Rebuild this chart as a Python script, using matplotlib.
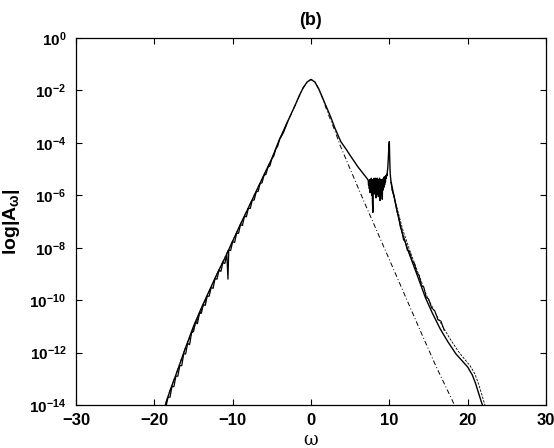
import numpy as np
import matplotlib
matplotlib.use('Agg')
import matplotlib.pyplot as plt
from matplotlib.ticker import FixedLocator, NullLocator, LogFormatterSciNotation

plt.rcParams['font.family'] = ['Liberation Sans', 'DejaVu Sans']
plt.rcParams['mathtext.fontset'] = 'custom'
plt.rcParams['mathtext.rm'] = 'Liberation Sans:bold'
plt.rcParams['mathtext.it'] = 'Liberation Sans:bold'
plt.rcParams['mathtext.bf'] = 'Liberation Sans:bold'

# main solid curve: omega, log10|A|
main_w = [-18.6, -18.0, -17.0, -16.0, -15.0, -14.0, -13.0, -12.0, -11.0, -10.0,
          -9.0, -8.0, -7.0, -6.0, -5.0, -4.0, -3.0, -2.0, -1.5, -1.0, -0.5, 0.0,
          0.5, 1.0, 1.5, 2.0, 2.5, 3.0, 3.8, 4.5, 5.0, 6.0, 7.0]
main_v = [-14.0, -13.45, -12.65, -11.8, -11.0, -10.3, -9.65, -9.0, -8.4, -7.75,
          -7.1, -6.48, -5.85, -5.22, -4.6, -3.85, -3.2, -2.55, -2.2, -1.9, -1.68, -1.58,
          -1.68, -1.95, -2.3, -2.65, -3.0, -3.4, -3.95, -4.25, -4.48, -4.92, -5.3]

# noisy part around omega = 7.3..9.7 and the spike at 10
blob_w = [7.30, 7.35, 7.40, 7.45, 7.50, 7.55, 7.60, 7.65, 7.70, 7.75, 7.80, 7.85, 7.90,
          7.95, 8.00, 8.05, 8.10, 8.15, 8.20, 8.25, 8.30, 8.35, 8.40, 8.45, 8.50, 8.55,
          8.60, 8.65, 8.70, 8.75, 8.80, 8.85, 8.90, 8.95, 9.00, 9.05, 9.10, 9.15, 9.20,
          9.25, 9.30, 9.35, 9.40, 9.45, 9.50, 9.55, 9.60, 9.65, 9.70, 9.75, 9.80, 9.85,
          9.90, 9.95, 10.00, 10.05, 10.10, 10.15, 10.20]
blob_v = [-5.42, -5.6, -5.45, -5.75, -5.4, -5.9, -5.45, -5.7, -5.35, -6.0, -5.4, -6.3, -6.65,
          -5.5, -5.85, -5.35, -5.95, -5.4, -5.8, -5.35, -6.1, -5.4, -5.75, -5.35, -5.95, -5.4,
          -6.05, -5.45, -5.8, -5.35, -6.2, -5.5, -5.85, -5.4, -6.0, -5.45, -6.15, -5.4, -5.8,
          -5.35, -5.7, -5.3, -5.6, -5.3, -5.5, -5.25, -5.35, -5.2, -5.25, -5.1, -4.95, -4.7,
          -4.4, -4.1, -3.95, -4.6, -5.1, -5.3, -5.45]

# right tail of solid curve
tail_w = [10.5, 11.0, 11.6, 12.5, 13.5, 14.6, 15.5, 16.5, 17.5, 18.5, 19.4,
          20.0, 20.6, 21.0, 21.8, 22.3]
tail_v = [-5.9, -6.6, -7.4, -8.2, -9.0, -9.9, -10.5, -11.1, -11.6, -12.05, -12.35,
          -12.55, -12.86, -13.17, -13.93, -14.3]

# jagged traces overlapping the solid curve
jagL_w = [-18.5, -18.25, -18.0, -17.75, -17.5, -17.25, -17.0, -16.75, -16.5, -16.25,
          -16.0, -15.75, -15.5, -15.25, -15.0, -14.75, -14.5, -14.25, -14.0, -13.75,
          -13.5, -13.25, -13.0, -12.75, -12.5, -12.25, -12.0, -11.75, -11.5, -11.25,
          -11.0, -10.75, -10.6, -10.5, -10.25, -10.0, -9.75, -9.5, -9.25, -9.0,
          -8.75, -8.5, -8.25, -8.0, -7.75, -7.5, -7.25, -7.0, -6.75, -6.5,
          -6.25, -6.0, -5.75, -5.5, -5.25, -5.0, -4.75, -4.5, -4.25, -4.0, -3.5, -3.0]
jagL_v = [-14.05, -13.7, -13.7, -13.3, -13.3, -12.9, -12.9, -12.5, -12.5, -12.05,
          -12.05, -11.65, -11.7, -11.25, -11.2, -10.85, -10.9, -10.5, -10.5, -10.17,
          -10.2, -9.85, -9.85, -9.52, -9.55, -9.18, -9.2, -8.87, -8.9, -8.57,
          -8.6, -8.26, -9.2, -8.1, -8.1, -7.77, -7.8, -7.45, -7.45, -7.12,
          -7.15, -6.81, -6.82, -6.5, -6.5, -6.19, -6.18, -5.87, -5.85, -5.56,
          -5.52, -5.24, -5.2, -4.93, -4.88, -4.61, -4.5, -4.24, -4.12, -3.86, -3.6, -3.2]

jagR_w = [10.2, 10.4, 10.6, 10.8, 11.0, 11.2, 11.4, 11.6, 11.8, 12.0, 12.3, 12.6, 12.9,
          13.2, 13.5, 13.8, 14.1, 14.4, 14.7, 15.0, 15.4, 15.8, 16.2, 16.6, 17.0]
jagR_v = [-5.5, -5.85, -6.0, -6.35, -6.65, -6.85, -7.2, -7.35, -7.7, -7.75, -8.1, -8.15, -8.5,
          -8.6, -8.95, -9.05, -9.45, -9.5, -9.9, -9.95, -10.3, -10.4, -10.75, -10.8, -11.15]

# dashed trace beside the tail
dash_w = [10.3, 11.0, 11.7, 12.6, 13.6, 14.8, 15.8, 16.8, 17.8, 18.8, 19.6, 20.3,
          20.9, 21.4, 21.9, 22.4]
dash_v = [-5.75, -6.5, -7.3, -8.1, -8.9, -9.85, -10.45, -11.0, -11.5, -11.95, -12.25,
          -12.5, -12.8, -13.2, -13.7, -14.2]

# dash-dot reference curve
dd_w = [-19.0, -16.0, -12.0, -8.0, -5.0, -3.0, -2.0, -1.0, -0.5, 0.0, 0.5, 1.0, 1.5,
        2.0, 3.0, 3.7, 5.0, 6.0, 7.0, 8.0, 8.8, 10.0, 12.4, 14.0, 16.0, 18.0, 18.6]
dd_v = [-14.3, -11.8, -9.0, -6.48, -4.6, -3.2, -2.55, -1.9, -1.68, -1.58, -1.68, -1.95, -2.3,
        -2.75, -3.5, -4.08, -5.0, -5.7, -6.4, -7.08, -7.63, -8.45, -10.1, -11.2, -12.55, -13.8, -14.2]

fig = plt.figure(figsize=(5.54, 4.48), dpi=100)
ax = fig.add_axes([76 / 554, 1 - 405 / 448, 470 / 554, 367 / 448])

def p(w, v):
    return np.array(w), 10.0 ** np.array(v)

ax.plot(*p(dd_w, dd_v), color='black', lw=0.7, linestyle=(0, (5, 2.5, 1, 2.5)))
ax.plot(*p(dash_w, dash_v), color='black', lw=0.6, linestyle=(0, (3, 1.5)))
ax.plot(*p(jagL_w, jagL_v), color='black', lw=0.9)
ax.plot(*p(jagR_w, jagR_v), color='black', lw=0.8)
ax.plot(*p(main_w + blob_w + tail_w, main_v + blob_v + tail_v), color='black', lw=1.0)

ax.set_yscale('log')
ax.set_xlim(-30, 30)
ax.set_ylim(1e-14, 1e0)
ax.set_xticks([-30, -20, -10, 0, 10, 20, 30])
ax.set_xticklabels(['\u221230', '\u221220', '\u221210', '0', '10', '20', '30'])
ax.yaxis.set_major_locator(FixedLocator([10.0 ** -k for k in range(0, 15, 2)]))
ax.yaxis.set_major_formatter(LogFormatterSciNotation())
ax.yaxis.set_minor_locator(NullLocator())
ax.tick_params(direction='in', top=True, right=True, length=4, width=0.8, pad=6)
ax.tick_params(axis='x', labelsize=12)
ax.tick_params(axis='y', labelsize=11, pad=7)
for lab in ax.get_xticklabels() + ax.get_yticklabels():
    lab.set_fontweight('bold')
for s in ax.spines.values():
    s.set_linewidth(0.9)

ax.set_title('(b)', fontsize=13, fontweight='bold', pad=9)
ax.set_ylabel(r'log|A$_{\omega}$|', fontsize=14, fontweight='bold')
ax.yaxis.set_label_coords(-0.115, 0.5)
ax.set_xlabel('\u03c9', fontsize=13, family='DejaVu Serif', labelpad=2)

fig.savefig('out.png', dpi=100)
